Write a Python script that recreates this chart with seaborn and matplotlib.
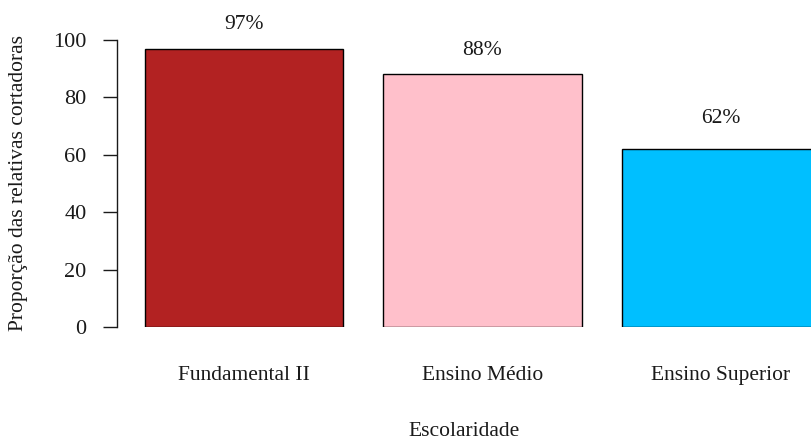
import matplotlib
matplotlib.use("Agg")
import matplotlib.pyplot as plt
import seaborn as sns
import pandas as pd

categorias = ["Fundamental II", "Ensino Médio", "Ensino Superior"]
proporcoes = [97, 88, 62]
cores = ["#B22222", "#FFC0CB", "#00BFFF"]
rotulos = ["97%", "88%", "62%"]
y_ticks = [0, 20, 40, 60, 80, 100]

sns.set_theme(style="white")
plt.rcParams["font.family"] = ["Liberation Serif", "DejaVu Serif"]

df = pd.DataFrame({"Escolaridade": categorias, "Proporcao": proporcoes})

fig = plt.figure(figsize=(8.12, 4.42), dpi=100)
W, H = 812, 442
left_px, right_px, top_px, bottom_px = 117, 812, 40, 327
ax = fig.add_axes([left_px / W, (H - bottom_px) / H,
                   (right_px - left_px) / W, (bottom_px - top_px) / H])

sns.barplot(data=df, x="Escolaridade", y="Proporcao", hue="Escolaridade",
            palette=cores, legend=False, width=0.833, saturation=1,
            edgecolor="black", linewidth=1.0, ax=ax)

ax.set_xlim(-0.532, 2.382)
ax.set_ylim(0, 100)

for i, (v, txt) in enumerate(zip(proporcoes, rotulos)):
    off = 10.5 if v < 70 else 8.5
    ax.text(i, v + off, txt, ha="center", va="center", fontsize=15.5,
            color="#1a1a1a", clip_on=False)

for s in ["top", "right", "bottom"]:
    ax.spines[s].set_visible(False)
ax.spines["left"].set_bounds(0, 100)
ax.spines["left"].set_color("#1a1a1a")
ax.spines["left"].set_linewidth(1.0)

ax.set_yticks(y_ticks)
ax.set_yticklabels([str(t) for t in y_ticks], fontsize=16)
ax.tick_params(axis="y", length=10, width=1.0, pad=12, colors="#1a1a1a",
               left=True)
ax.tick_params(axis="x", length=0, pad=28, labelsize=15.5, colors="#1a1a1a")
ax.set_xlabel("Escolaridade", fontsize=15.5, labelpad=27, color="#1a1a1a")
ax.set_ylabel("Proporção das relativas cortadoras", fontsize=15.5,
              labelpad=18, color="#1a1a1a")

fig.savefig("out.png", dpi=100)
